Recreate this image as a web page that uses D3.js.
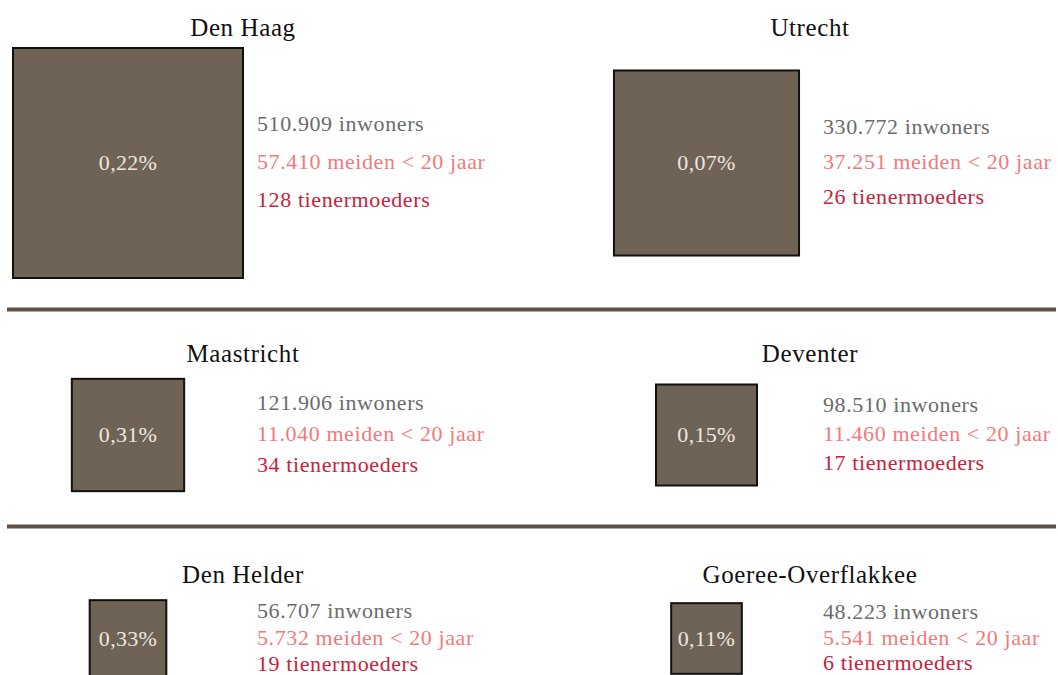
<!DOCTYPE html>
<html>
<head>
<meta charset="utf-8">
<script src="https://cdn.jsdelivr.net/npm/d3@7"></script>
<style>
  body { margin: 0; background: #fff; }
  svg { display: block; font-family: "Liberation Serif", "Times New Roman", serif; }
</style>
</head>
<body>
<svg id="chart"></svg>
<script>
// Data per gemeente
const cities = ["Den Haag", "Utrecht", "Maastricht", "Deventer", "Den Helder", "Goeree-Overflakkee"];
const inwoners = [510909, 330772, 121906, 98510, 56707, 48223];
const meiden = [57410, 37251, 11040, 11460, 5732, 5541];
const tienermoeders = [128, 26, 34, 17, 19, 6];

const width = 1058;
const height = 675;

// Layout: two columns, three rows
const rowCenter = [163, 435, 638.5];
const rowTitleY = [36, 362, 583];
const colCenter = [128, 706.5];
const colText = [257, 823];
const colTitle = [243, 810];
const separators = [309.5, 526.5];

const nl = d3.formatLocale({ decimal: ",", thousands: ".", grouping: [3], currency: ["€", ""] });
const fmtInt = nl.format(",d");
const fmtPct = nl.format(".2%");

const svg = d3.select("#chart")
    .attr("width", width)
    .attr("height", height);

// Side of square ~ sqrt(population) so area matches
const side = d3.scaleSqrt()
    .domain([0, d3.max(inwoners)])
    .range([0, 230]);

// Line spacing of the text block grows a bit with the square
const lineGap = d3.scaleLinear()
    .domain([70, 113, 230])
    .range([25.5, 31, 38])
    .clamp(true);

// Row separators
svg.selectAll("line.sep")
    .data(separators)
    .join("line")
    .attr("class", "sep")
    .attr("x1", 7)
    .attr("x2", 1056)
    .attr("y1", d => d)
    .attr("y2", d => d)
    .attr("stroke", "#5f5148")
    .attr("stroke-width", 4);

const data = cities.map((c, i) => ({
    city: c,
    pop: inwoners[i],
    girls: meiden[i],
    moms: tienermoeders[i],
    row: Math.floor(i / 2),
    col: i % 2
}));

const panel = svg.selectAll("g.panel")
    .data(data)
    .join("g")
    .attr("class", "panel");

// City name
panel.append("text")
    .attr("x", d => colTitle[d.col])
    .attr("y", d => rowTitleY[d.row])
    .attr("text-anchor", "middle")
    .attr("font-size", 25)
    .attr("letter-spacing", 0.6)
    .attr("fill", "#111")
    .text(d => d.city);

// Square
panel.append("rect")
    .attr("x", d => colCenter[d.col] - side(d.pop) / 2)
    .attr("y", d => rowCenter[d.row] - side(d.pop) / 2)
    .attr("width", d => side(d.pop))
    .attr("height", d => side(d.pop))
    .attr("fill", "#6f6355")
    .attr("stroke", "#111")
    .attr("stroke-width", 2);

// Percentage tienermoeders / meiden
panel.append("text")
    .attr("x", d => colCenter[d.col])
    .attr("y", d => rowCenter[d.row] + 7)
    .attr("text-anchor", "middle")
    .attr("font-size", 22)
    .attr("letter-spacing", 0.3)
    .attr("fill", "#ede7e0")
    .text(d => fmtPct(d.moms / d.girls));

// Three text lines to the right
const lineColors = ["#6b6b6b", "#f27a7a", "#c8223c"];
const lineText = [
    d => fmtInt(d.pop) + " inwoners",
    d => fmtInt(d.girls) + " meiden < 20 jaar",
    d => fmtInt(d.moms) + " tienermoeders"
];
lineText.forEach((fn, k) => {
    panel.append("text")
        .attr("x", d => colText[d.col])
        .attr("y", d => rowCenter[d.row] + 6 + (k - 1) * lineGap(side(d.pop)))
        .attr("font-size", 22)
        .attr("letter-spacing", 0.6)
        .attr("fill", lineColors[k])
        .text(fn);
});
</script>
</body>
</html>
